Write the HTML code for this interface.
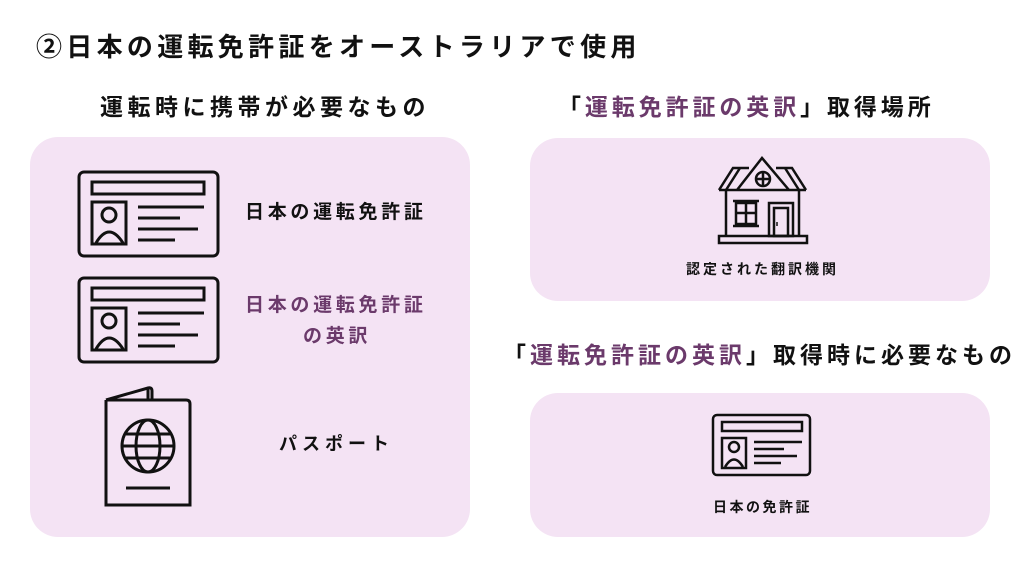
<!DOCTYPE html>
<html><head><meta charset="utf-8"><style>
body{margin:0;width:1024px;height:576px;background:#fff;position:relative;overflow:hidden;font-family:"Liberation Sans","Noto Sans CJK JP",sans-serif;font-weight:bold;color:#111}
.t{position:absolute;white-space:nowrap;line-height:1}
.box{position:absolute;background:#f4e3f4;border-radius:28px}
.p{color:#6b3a6b}
svg{position:absolute}
</style></head><body>
<div class="t" style="left:36px;top:34px;font-size:26px;letter-spacing:4.3px">②日本の運転免許証をオーストラリアで使用</div>
<div class="t" style="left:100px;top:96px;font-size:23px;letter-spacing:4.5px">運転時に携帯が必要なもの</div>
<div class="t" style="left:558px;top:96px;font-size:23px;letter-spacing:3.9px">「<span class="p">運転免許証の英訳</span>」取得場所</div>
<div class="t" style="left:503px;top:344px;font-size:23px;letter-spacing:4px">「<span class="p">運転免許証の英訳</span>」取得時に必要なもの</div>

<div class="box" style="left:30px;top:137px;width:440px;height:400px"></div>
<div class="box" style="left:530px;top:138px;width:460px;height:163px"></div>
<div class="box" style="left:530px;top:393px;width:460px;height:144px"></div>

<svg width="1024" height="576" style="left:0;top:0" fill="none" stroke="#111" stroke-width="3">
<g id="c1">
<rect x="79" y="172" width="139" height="84" rx="5"/>
<rect x="92" y="182" width="112" height="12"/>
<rect x="92" y="202" width="34" height="42"/>
<circle cx="109" cy="215" r="7"/>
<path d="M96 243 q13 -22 27 0"/>
<path d="M138 207h66M138 218h42M138 229h60M138 240h37"/>
</g>
<use href="#c1" transform="translate(0,106)"/>
<path d="M106 400 L148 388 q4 -1 4 3 v9 M106 400 v105 h55 v1 M106 400 h80 q4 0 4 4 v101 h-84"/>
<path d="M148 389 v11"/>
<circle cx="148" cy="446" r="26"/>
<ellipse cx="148" cy="446" rx="12" ry="26"/>
<path d="M122 446h52M126 434h44M126 458h44M126 488h44"/>
<!-- house -->
<g stroke-width="2.5">
<rect x="719" y="236" width="88" height="7"/>
<path d="M726 190 v46 M799 190 v46"/>
<path d="M737 190 L762 158 L789 190 M719 190 L733 168 L749 168 M806 190 L792 168 L776 168 M719 190 h87"/>
<path d="M726 190 L740 168 M799 190 L785 168"/>
<circle cx="763" cy="179" r="7"/><path d="M756 179h14M763 172v14"/>
<rect x="736" y="203" width="20" height="21"/><path d="M733 201h26M733 226h26M746 203v21M736 213h20"/>
<rect x="769" y="203" width="24" height="33"/><rect x="774" y="208" width="14" height="28"/>
<path d="M777 222v4" stroke-width="1.5"/>
</g>
<!-- small card -->
<g stroke-width="2.5">
<rect x="713" y="415" width="97" height="60" rx="4"/>
<rect x="722" y="422" width="80" height="9"/>
<rect x="722" y="438" width="24" height="30"/>
<circle cx="734" cy="447" r="5"/>
<path d="M725 467 q9 -15 18 0"/>
<path d="M754 442h48M754 449h30M754 456h43M754 463h27"/>
</g>
</svg>

<div class="t" style="left:245px;top:203px;font-size:19px;letter-spacing:3.7px">日本の運転免許証</div>
<div class="t p" style="left:245px;top:296px;font-size:19px;letter-spacing:3.7px">日本の運転免許証</div>
<div class="t p" style="left:303px;top:327px;font-size:19px;letter-spacing:3.7px">の英訳</div>
<div class="t" style="left:279px;top:435px;font-size:18px;letter-spacing:5px">パスポート</div>
<div class="t" style="left:686px;top:262px;font-size:14px;letter-spacing:3px">認定された翻訳機関</div>
<div class="t" style="left:713px;top:500px;font-size:14px;letter-spacing:2.5px">日本の免許証</div>
</body></html>
